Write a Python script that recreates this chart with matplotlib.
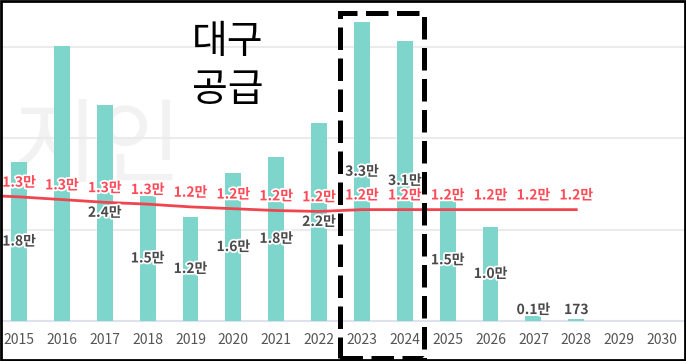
import numpy as np
import matplotlib.pyplot as plt
from matplotlib.patches import Rectangle
import matplotlib.patheffects as pe

plt.rcParams["font.family"] = ['Noto Sans CJK KR', 'DejaVu Sans']

years = list(range(2015, 2031))
supply = [1.74, 3.01, 2.37, 1.37, 1.14, 1.62, 1.80, 2.17, 3.27, 3.07, 1.33, 1.03, 0.05, 0.0173, 0, 0]
supply_labels = ['1.8만', '', '2.4만', '1.5만', '1.2만', '1.6만', '1.8만', '2.2만',
                 '3.3만', '3.1만', '1.5만', '1.0만', '0.1만', '173', '', '']

demand_years = [2014, 2015, 2016, 2017, 2018, 2019, 2020, 2021, 2022, 2023, 2024, 2025, 2026, 2027, 2028]
demand = [1.38, 1.36, 1.33, 1.30, 1.28, 1.25, 1.23, 1.21, 1.20, 1.22, 1.22, 1.22, 1.22, 1.22, 1.22]
demand_labels = ['', '1.3만', '1.3만', '1.3만', '1.3만', '1.2만', '1.2만', '1.2만', '1.2만',
                 '1.2만', '1.2만', '1.2만', '1.2만', '1.2만', '1.2만']

fig = plt.figure(figsize=(6.86, 3.61), dpi=100)
ax = fig.add_axes([0, 0, 1, 1])
ax.set_xlim(2014.557, 2030.56)
ax.set_ylim(-0.438, 3.516)
ax.axis('off')

# watermark
ax.text(2016.85, 1.88, '지인', fontsize=66, color='#f2f2f2', ha='center', va='center', zorder=0)

for g in [1, 2, 3]:
    ax.axhline(g, color='#ebebeb', lw=1.5, zorder=1)
ax.axhline(0, color='#dde2ee', lw=1.5, zorder=1)

ax.bar(years, supply, width=0.37, color='#7dd5cc', zorder=2)
ax.plot(demand_years, demand, color='#f0454f', lw=2, zorder=3)

stroke = [pe.withStroke(linewidth=2.5, foreground='white')]
for x, v, s in zip(years, supply, supply_labels):
    if not s:
        continue
    y = v / 2 if v > 0.5 else 0.12
    ax.text(x, y, s, ha='center', va='center', fontsize=10, fontweight='bold',
            color='#4a4a4a', path_effects=stroke, zorder=5)

for x, v, s in zip(demand_years, demand, demand_labels):
    if not s:
        continue
    ax.text(x, v + 0.155, s, ha='center', va='center', fontsize=10, fontweight='bold',
            color='#ff4a57', path_effects=stroke, zorder=5)

for x in years:
    ax.text(x, -0.208, str(x), ha='center', va='center', fontsize=10, color='#555555')

ax.text(2019.875, 2.79, '대구\n공급', ha='center', va='center', fontsize=28,
        color='black', linespacing=1.25, zorder=6)

# dashed highlight box around 2023-2024
fig.add_artist(Rectangle((340 / 686, 3 / 361), 84 / 686, 345.5 / 361, transform=fig.transFigure,
                         fill=False, edgecolor='black', lw=3.6, linestyle=(0, (4.5, 1.7)), zorder=10))

# outer frame
fig.add_artist(Rectangle((0.001, 0.002), 0.997, 0.995, transform=fig.transFigure,
                         fill=False, edgecolor='black', lw=2, zorder=11))

fig.savefig('out.png', dpi=100)
